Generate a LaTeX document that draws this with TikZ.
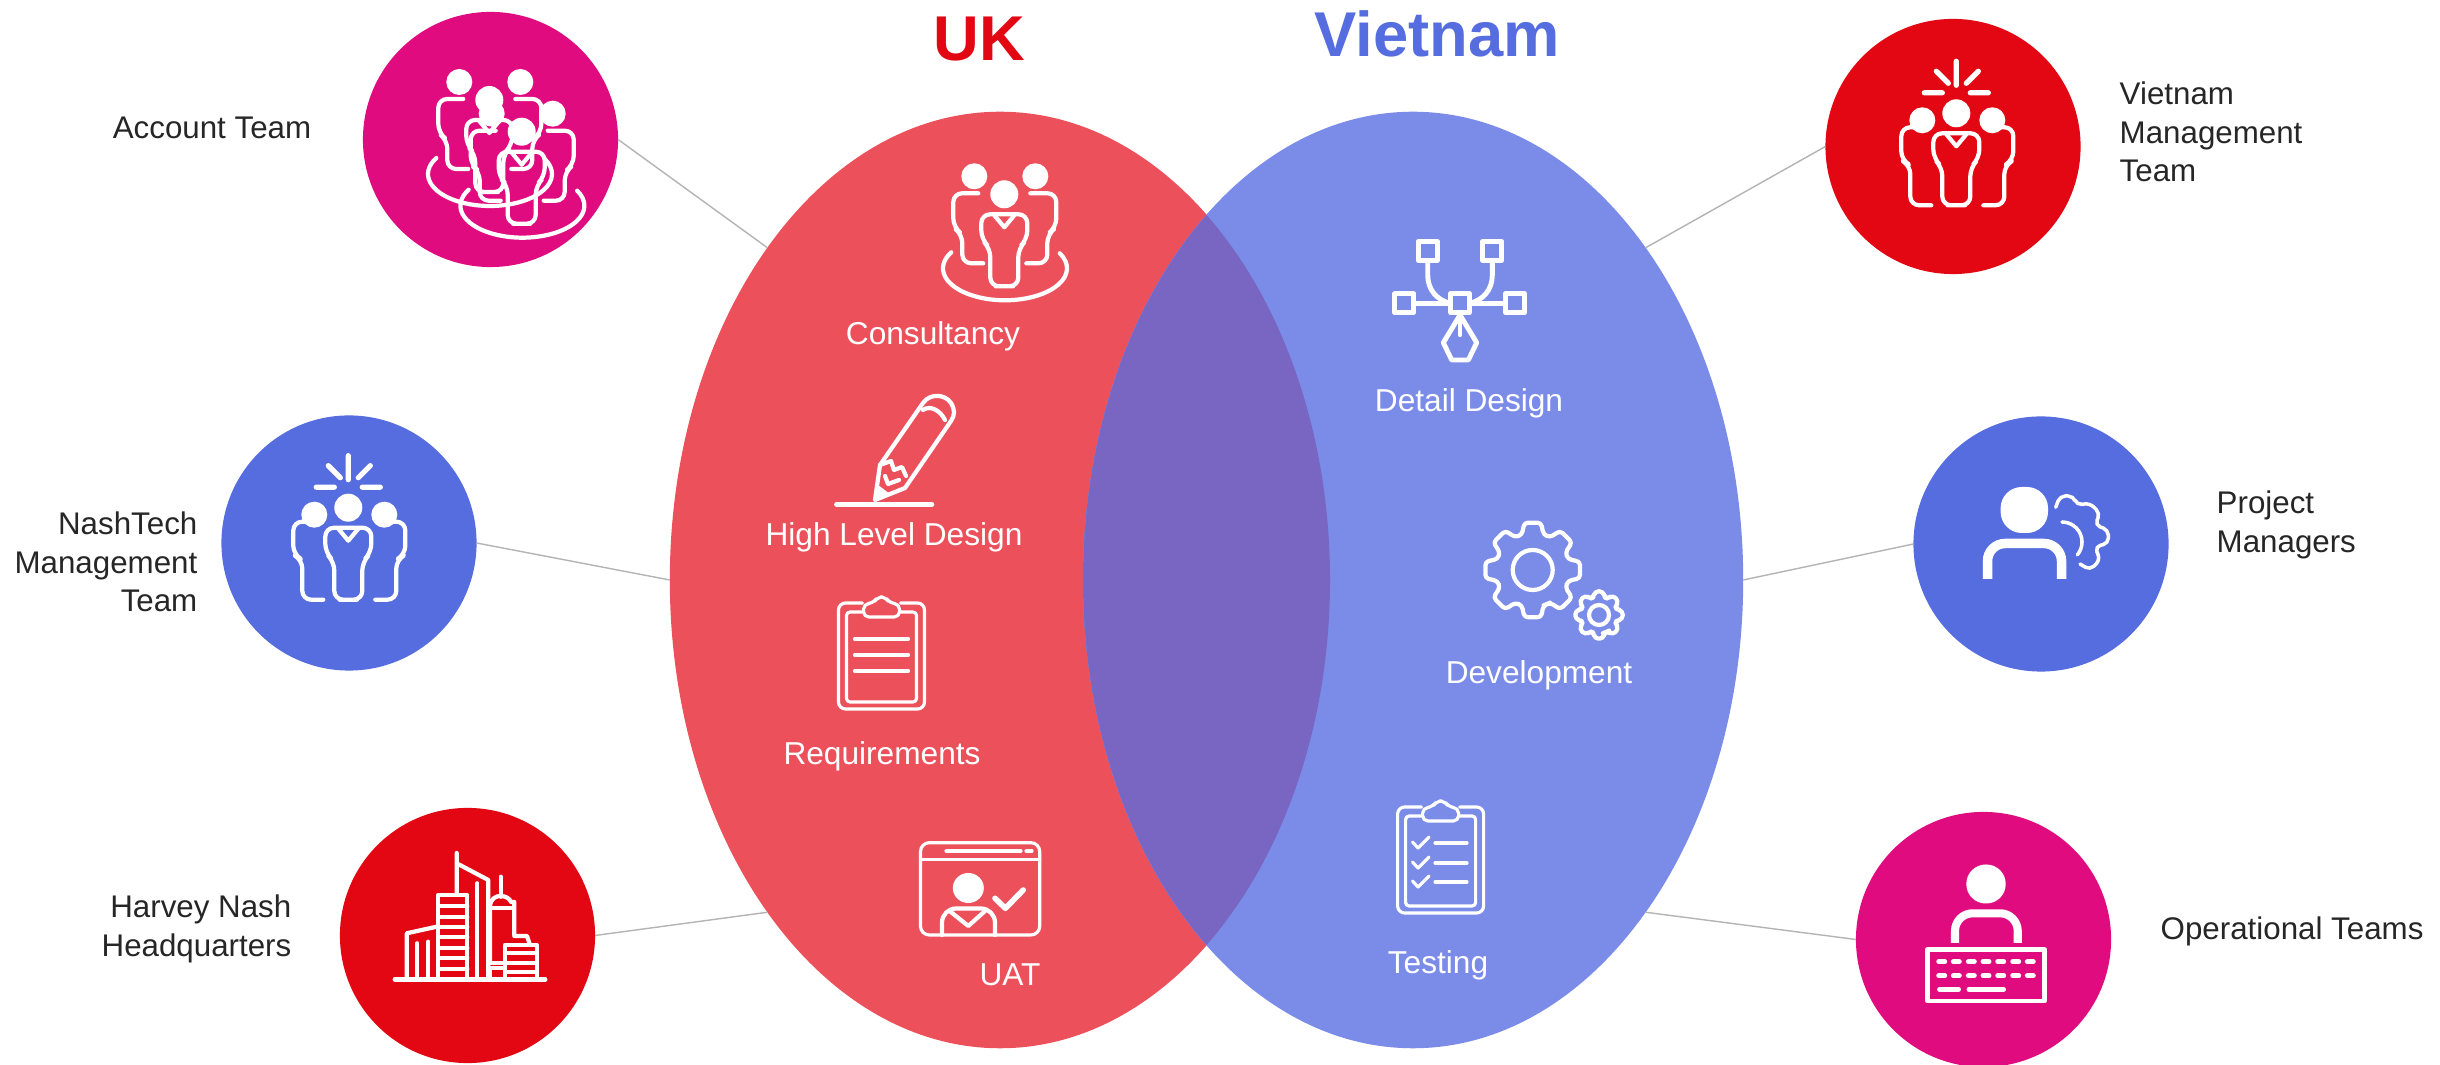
\documentclass[tikz,border=0pt]{standalone}
\usepackage{fontspec}
\setmainfont{Liberation Sans}
\usetikzlibrary{shapes.geometric}
\definecolor{redc}{HTML}{E30613}
\definecolor{bluec}{HTML}{566DE0}
\definecolor{pinkc}{HTML}{E00B7E}
\definecolor{ukc}{HTML}{EC505B}
\definecolor{vnc}{HTML}{7B8BE8}
\definecolor{lapc}{HTML}{7966C2}
\definecolor{txtc}{HTML}{262626}
\definecolor{linec}{HTML}{B4B4B4}

\begin{document}
\begin{tikzpicture}[x=0.01cm,y=-0.01cm]
      \tikzset{
        disc/.style={circle,inner sep=0pt,outer sep=0pt,minimum size=2.55cm},
        lobe/.style={ellipse,inner sep=0pt,outer sep=0pt,minimum width=6.6cm,minimum height=9.36cm},
        lbl/.style={text=txtc,inner sep=0pt,font=\fontsize{8.9}{11}\selectfont},
        wlbl/.style={text=white,inner sep=0pt,font=\fontsize{9}{11}\selectfont},
        ttl/.style={inner sep=0pt,font=\bfseries\fontsize{18}{20}\selectfont},
        conn/.style={draw=linec,line width=0.4pt},
        ln/.style={draw=white,line width=1.2pt,line cap=round,line join=round},
        thn/.style={ln,line width=.9pt},
        thk/.style={ln,line width=1.5pt},
        midbody/.pic={
          \draw[ln,rounded corners=2.5pt] (0,92) -- (14,92) -- (14,54) -- (23,45) -- (23,20) -- (-23,20)
            -- (-23,45) -- (-14,54) -- (-14,92) -- cycle;
          \draw[ln] (-10,21) -- (0,33) -- (10,21);
        },
        teamring/.pic={
          \fill[white] (0,0) circle[radius=14] (-30,-18) circle[radius=13] (31,-18) circle[radius=13];
          \pic {midbody};
          \draw[ln,rounded corners=2.5pt] (-26,-1) -- (-51,-1) -- (-51,33) -- (-42,40) -- (-42,69) -- (-21,69);
          \draw[ln,rounded corners=2.5pt] (26,-1) -- (52,-1) -- (52,33) -- (43,40) -- (43,69) -- (22,69);
          \draw[ln] (-53,58) arc[start angle=210,end angle=-28,x radius=62,y radius=32];
        },
        teamspark/.pic={
          \fill[white] (0,0) circle[radius=14] (-34,7) circle[radius=13] (36,7) circle[radius=13];
          \pic {midbody};
          \draw[ln,rounded corners=2.5pt] (-30,14) -- (-55,14) -- (-55,47) -- (-46,52) -- (-46,92) -- (-25,92);
          \draw[ln,rounded corners=2.5pt] (31,14) -- (57,14) -- (57,47) -- (48,52) -- (48,92) -- (27,92);
          \draw[thk] (0,-52) -- (0,-28) (-20,-42) -- (-8,-30) (22,-42) -- (10,-30)
            (-32,-20.5) -- (-14,-20.5) (14,-20.5) -- (32,-20.5);
        },
        cog/.pic={
          \draw[ln,rounded corners=1pt,pic actions] (67.5:37) \foreach \a in {90,135,...,405} {
            -- (\a-17:37) -- (\a-10:48) -- (\a+10:48) -- (\a+17:37) } -- cycle;
          \draw[ln,pic actions] (0,0) circle[radius=20];
        },
        brd/.pic={
          \draw[thn,rounded corners=2pt] (-19,0) -- (-43,0) -- (-43,106) -- (43,106) -- (43,0) -- (19,0);
          \draw[thn,rounded corners=1pt] (-19,9) -- (-35,9) -- (-35,99) -- (35,99) -- (35,9) -- (19,9);
          \draw[thn,rounded corners=1.5pt] (-18,14) -- (18,14) -- (18,1) -- (8,0) -- (4,-6) -- (-4,-6) -- (-8,0) -- (-18,1) -- cycle;
        }
      }

      \path[use as bounding box,fill=white] (0,0) rectangle (2440,1065);

      \node[lobe,fill=ukc] (uk) at (1000,580) {};
      \node[lobe,fill=vnc] (vn) at (1413,580) {};
      \begin{scope}
        \clip (uk.center) ellipse [x radius=330,y radius=468];
        \fill[lapc] (vn.center) ellipse [x radius=330,y radius=468];
      \end{scope}

      \node[disc,fill=pinkc] (account) at (490.5,139.5) {};
      \node[disc,fill=bluec] (nash) at (349,543) {};
      \node[disc,fill=redc] (hq) at (467.5,935.5) {};
      \node[disc,fill=redc] (vnteam) at (1953,146.5) {};
      \node[disc,fill=bluec] (pm) at (2041,544) {};
      \node[disc,fill=pinkc] (ops) at (1983.5,939.5) {};

      \draw[conn] (account.east) -- (uk.125);
      \draw[conn] (nash.east) -- (uk.west);
      \draw[conn] (hq.east) -- (uk.235);
      \draw[conn] (vnteam.west) -- (vn.55);
      \draw[conn] (pm.west) -- (vn.east);
      \draw[conn] (ops.west) -- (vn.-55);

      \node[ttl,text=redc] (uktitle) at (979,39) {UK};
      \node[ttl,text=bluec] (vntitle) at (1437,34) {Vietnam};

      \node[lbl] (accountlbl) at (212,128) {Account Team};
      \node[lbl,align=right,anchor=east] (nashlbl) at (198,562) {NashTech\\Management\\Team};
      \node[lbl,align=right,anchor=east] (hqlbl) at (292,929) {Harvey Nash\\Headquarters};
      \node[lbl,align=left,anchor=west] (vnteamlbl) at (2119,132) {Vietnam\\Management\\Team};
      \node[lbl,align=left,anchor=west] (pmlbl) at (2216,525) {Project\\Managers};
      \node[lbl,anchor=west] (opslbl) at (2160,931) {Operational Teams};

      \node[wlbl] (consult) at (933,336) {Consultancy};
      \node[wlbl] (hld) at (894,537) {High Level Design};
      \node[wlbl] (req) at (882,756) {Requirements};
      \node[wlbl] (uat) at (1010,975) {UAT};
      \node[wlbl] (detail) at (1469,403) {Detail Design};
      \node[wlbl] (dev) at (1539,675) {Development};
      \node[wlbl] (test) at (1438,965) {Testing};

      \pic at (489.3,100) {teamring};
      \pic at (521.7,131.7) {teamring};
      \pic at (1004.3,194.3) {teamring};
      \pic at (348.3,507.7) {teamspark};
      \pic at (1956.3,113.3) {teamspark};

      % pencil
      \draw[thk] (836.7,504.3) -- (931.7,504.3);
      \draw[ln] (875,500) -- (880,465) -- (923,403) .. controls (930,393) and (945,394) .. (951,403)
        .. controls (955,410) and (955,415) .. (951,421) -- (905,488) -- cycle;
      \draw[ln] (923,410) .. controls (930,405) and (940,410) .. (945,420);
      \draw[ln] (880,465) -- (891,461) -- (894,470) -- (902,467) -- (906,476);
      \fill[white] (875,500) -- (878,485) -- (890,494) -- cycle;
      \draw[ln] (885,476) -- (888,484) -- (899,480);

      % clipboards
      \pic at (881.5,603) {brd};
      \draw[thn] (854.5,639) -- (908.5,639) (854.5,655) -- (908.5,655) (854.5,671) -- (908.5,671);
      \pic at (1440.6,807) {brd};
      \foreach \y in {843,863,882} {
        \draw[thn] (1412.5,\y-1) -- (1418,\y+5) -- (1429,\y-6);
        \draw[thn] (1435,\y) -- (1467,\y);
      }

      % uat screen
      \draw[thn,rounded corners=2.5pt] (920.5,842.7) rectangle (1039.7,935);
      \draw[thn] (920.5,859.3) -- (1039.7,859.3) (946,851) -- (1021,851) (1026,851) -- (1032,851);
      \fill[white] (968.3,888) ellipse [x radius=15.5,y radius=15];
      \draw[ln,rounded corners=4pt] (942,935) -- (942,908.5) -- (995,908.5) -- (995,935);
      \draw[ln] (949.6,911) -- (968.3,926) -- (985,911);
      \draw[thk,line width=1.6pt] (995,898.3) -- (1005.4,908.3) -- (1023.2,890);

      % design
      \foreach \x/\y in {1404.3/303.3,1460/303.3,1515/303.3,1427.7/251,1492.3/251} {
        \draw[ln,line width=1.4pt] (\x-9.5,\y-9.5) rectangle (\x+9.5,\y+9.5);
      }
      \draw[ln,line width=1.4pt] (1414,303.3) -- (1450,303.3) (1470,303.3) -- (1505,303.3);
      \draw[ln,line width=1.4pt] (1427.7,261) -- (1427.7,275) .. controls (1427.7,290) and (1437,300) .. (1450,303.3);
      \draw[ln,line width=1.4pt] (1492.3,261) -- (1492.3,275) .. controls (1492.3,290) and (1483,300) .. (1470,303.3);
      \draw[ln,line width=1.4pt] (1460,315) -- (1443.3,342.7) -- (1451.7,360) -- (1468.3,360) -- (1476.7,342.7) -- cycle;
      \draw[ln] (1460,315) -- (1460,335);

      % gears
      \pic[line width=1.1pt] at (1532.7,570) {cog};
      \pic[scale=.5,line width=.6pt] at (1599,615) {cog};

      % project manager
      \fill[white,rounded corners=6pt] (2000.6,487) rectangle (2048,533);
      \draw[draw=white,line width=2.7pt,rounded corners=5pt] (1987.5,579) -- (1987.5,543.5) -- (2061.5,543.5) -- (2061.5,579);
      \draw[ln,line width=1pt,rounded corners=1.5pt] (2055.7,507.3) -- (2060,496) -- (2073.3,496) -- (2076.7,505) -- (2090,503.3)
        -- (2100,513.3) -- (2095,525) -- (2108.3,530) -- (2108.3,543.3) -- (2095,546.7) -- (2100,560)
        -- (2090,570) -- (2080,564);
      \draw[ln,line width=1pt] (2062,522) arc[start angle=-90,end angle=40,radius=20];

      % operator and keyboard
      \fill[white,rounded corners=5.5pt] (1966.3,864.5) rectangle (2005.7,903.5);
      \draw[draw=white,line width=2.3pt,rounded corners=5pt] (1955,943) -- (1955,913.3) -- (2017.7,913.3) -- (2017.7,943);
      \draw[ln,line width=1.3pt] (1927.5,949.5) rectangle (2044.5,1001);
      \foreach \x in {1941.7,1956.3,1971.3,1986,2000.7,2015.7,2030.3} {
        \draw[ln,line width=1.4pt] (\x-3,961.7) -- (\x+3,961.7) (\x-3,975.7) -- (\x+3,975.7);
      }
      \draw[ln,line width=1.4pt] (1939.5,989.3) -- (1958.5,989.3) (1969,989.3) -- (2003.5,989.3);

      % buildings
      \draw[ln,line width=1.4pt] (395,979.3) -- (545,979.3);
      \draw[ln] (406.7,977) -- (406.7,933.3) -- (436.7,926.7);
      \draw[ln] (417.3,943.3) -- (417.3,977) (428.3,941.7) -- (428.3,977);
      \draw[ln] (438.3,977) -- (438.3,895) -- (467.3,895) -- (467.3,977);
      \foreach \y in {906,916.7,926.7,937.3,947.7,958.3,969} {
        \draw[ln] (438.3,\y) -- (467.3,\y);
      }
      \draw[ln] (456.7,853) -- (456.7,893) (456.7,863.3) -- (488.3,880) -- (488.3,977);
      \draw[ln] (477.3,883.3) -- (477.3,977);
      \draw[ln] (500.7,876.7) -- (500.7,896.7);
      \draw[ln] (490,963) -- (490,906) .. controls (491,898) and (496,896) .. (500.7,896) .. controls (506,896) and (510,899) .. (511,902) -- (514.3,902) -- (514.3,935);
      \draw[ln] (490,908) -- (511,908) (490,963.3) -- (505,963.3) (490,968) -- (505,968) (490,968) -- (490,977);
      \draw[ln] (514.3,936) -- (527,936) -- (530,945);
      \draw[ln] (505,977) -- (505,945) -- (536.7,945) -- (536.7,977);
      \draw[ln] (505,953.3) -- (536.7,953.3) (505,963.3) -- (536.7,963.3) (505,971.7) -- (536.7,971.7);
    \end{tikzpicture}
\end{document}
